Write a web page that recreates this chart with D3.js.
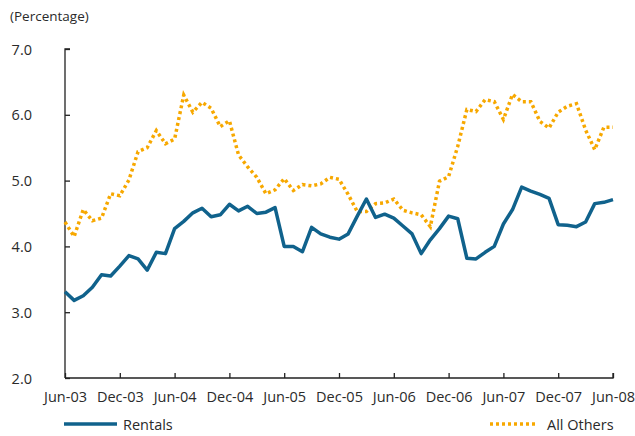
<!DOCTYPE html>
<html>
<head>
<meta charset="utf-8">
<script src="https://cdn.jsdelivr.net/npm/d3@7"></script>
<style>
  body { margin: 0; background: #fff; }
  svg text { font-family: "Open Sans", "DejaVu Sans", sans-serif; fill: #2a2a2a; }
</style>
</head>
<body>
<div id="chart"></div>
<script>
// monthly, Jun-03 .. Jun-08
const months = d3.range(61).map(i => new Date(2003, 5 + i, 1));

const rentals = [
  3.31, 3.18, 3.25, 3.38, 3.57, 3.55, 3.70, 3.86, 3.81, 3.64, 3.91, 3.89,
  4.27, 4.38, 4.51, 4.58, 4.45, 4.48, 4.64, 4.54, 4.61, 4.50, 4.52, 4.59,
  4.00, 4.00, 3.92, 4.29, 4.19, 4.14, 4.11, 4.19, 4.46, 4.72, 4.44, 4.49,
  4.43, 4.31, 4.19, 3.89, 4.10, 4.27, 4.46, 4.42, 3.82, 3.81, 3.91, 4.00,
  4.34, 4.56, 4.90, 4.84, 4.79, 4.73, 4.33, 4.32, 4.30, 4.37, 4.65, 4.67,
  4.71
];

const allOthers = [
  4.37, 4.15, 4.56, 4.39, 4.43, 4.80, 4.77, 5.01, 5.44, 5.50, 5.76, 5.56,
  5.63, 6.30, 6.04, 6.19, 6.10, 5.82, 5.91, 5.39, 5.21, 5.05, 4.80, 4.86,
  5.03, 4.85, 4.94, 4.92, 4.95, 5.05, 5.02, 4.79, 4.53, 4.53, 4.65, 4.66,
  4.72, 4.55, 4.51, 4.48, 4.30, 4.99, 5.06, 5.52, 6.08, 6.05, 6.23, 6.20,
  5.93, 6.31, 6.20, 6.20, 5.90, 5.80, 6.04, 6.13, 6.17, 5.77, 5.47, 5.81,
  5.81
];

const yTicks = [2, 3, 4, 5, 6, 7];
const xTickLabels = ['Jun-03', 'Dec-03', 'Jun-04', 'Dec-04', 'Jun-05', 'Dec-05',
                     'Jun-06', 'Dec-06', 'Jun-07', 'Dec-07', 'Jun-08'];

const width = 635, height = 436;
const margin = { top: 49, right: 22, bottom: 58, left: 65 };

const svg = d3.select('#chart').append('svg')
  .attr('width', width)
  .attr('height', height);

// months evenly spaced, as in the original
const x = d3.scaleLinear()
  .domain([0, months.length - 1])
  .range([margin.left, width - margin.right]);

const y = d3.scaleLinear()
  .domain([2, 7])
  .range([height - margin.bottom, margin.top]);

// y axis
const yAxis = svg.append('g')
  .attr('transform', `translate(${margin.left},0)`)
  .call(d3.axisRight(y).tickValues(yTicks).tickSize(5).tickFormat(d3.format('.1f')));
yAxis.select('.domain').attr('d', `M5,${y(7)}H0V${y(2)}`).attr('stroke', '#222').attr('stroke-width', 1.3);
yAxis.selectAll('.tick line').attr('stroke', '#222').attr('stroke-width', 1.3);
yAxis.selectAll('.tick text')
  .attr('x', -33)
  .attr('text-anchor', 'end')
  .attr('font-size', 14.5)
  .attr('dy', '0.35em');

// x axis, a tick every 6 months
const xTickIdx = d3.range(0, 61, 6);
const xAxis = svg.append('g')
  .attr('transform', `translate(0,${y(2)})`)
  .call(d3.axisTop(x).tickValues(xTickIdx).tickSize(5).tickFormat((d, i) => xTickLabels[i]));
xAxis.select('.domain').attr('d', `M${margin.left},0H${x(60)}V-5`).attr('stroke', '#222').attr('stroke-width', 1.3);
xAxis.selectAll('.tick line').attr('stroke', '#222').attr('stroke-width', 1.3);
xAxis.selectAll('.tick text')
  .attr('y', 24)
  .attr('dy', 0)
  .attr('font-size', 14.5);

svg.selectAll('.tick text').style('font-family', '"Open Sans", "DejaVu Sans", sans-serif').attr('fill', '#2a2a2a');

// y title
svg.append('text')
  .attr('x', 10)
  .attr('y', 21)
  .attr('font-size', 13.5)
  .text('(Percentage)');

const line = d3.line()
  .x((d, i) => x(i))
  .y(d => y(d));

svg.append('path')
  .datum(allOthers)
  .attr('fill', 'none')
  .attr('stroke', '#f7a800')
  .attr('stroke-width', 3.5)
  .attr('stroke-dasharray', '3,3')
  .attr('d', line);

svg.append('path')
  .datum(rentals)
  .attr('fill', 'none')
  .attr('stroke', '#10628c')
  .attr('stroke-width', 3.5)
  .attr('stroke-linejoin', 'round')
  .attr('d', line);

// legend
const legend = [
  { label: 'Rentals', color: '#10628c', dash: null, x1: 64, x2: 117, tx: 123 },
  { label: 'All Others', color: '#f7a800', dash: '3,3', x1: 490, x2: 538, tx: 547 }
];
legend.forEach(l => {
  svg.append('line')
    .attr('x1', l.x1).attr('x2', l.x2)
    .attr('y1', 424).attr('y2', 424)
    .attr('stroke', l.color)
    .attr('stroke-width', 3.5)
    .attr('stroke-dasharray', l.dash);
  svg.append('text')
    .attr('x', l.tx)
    .attr('y', 430)
    .attr('font-size', 14.5)
    .text(l.label);
});
</script>
</body>
</html>
